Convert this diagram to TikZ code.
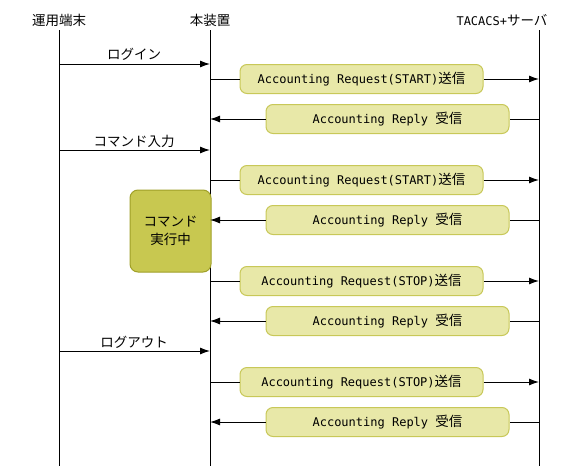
\documentclass[tikz,border=0pt]{standalone}
\usepackage{fontspec}
\usepackage{tikz}
\usetikzlibrary{arrows.meta,positioning,calc}
\newfontfamily\jpfont{Noto Sans CJK JP}
\newfontfamily\monofont{DejaVu Sans Mono}

\definecolor{boxfill}{HTML}{E8E8A8}
\definecolor{boxline}{HTML}{C8C858}
\definecolor{execfill}{HTML}{C8C850}
\definecolor{execline}{HTML}{A0A028}

\tikzset{
  txt/.style={font=\jpfont\fontsize{13.5}{16}\selectfont, inner sep=0pt},
  arr/.style={-{Latex[length=10pt,width=7pt]}},
  msgbox/.style={txt, draw=boxline, fill=boxfill, rounded corners=7pt,
    minimum width=243pt, minimum height=29pt},
  execbox/.style={txt, draw=execline, fill=execfill, rounded corners=8pt,
    minimum width=81pt, minimum height=82pt, align=center}
}
\newcommand{\lat}[1]{{\monofont\fontsize{12}{14}\selectfont #1}}

\begin{document}
\begin{tikzpicture}[x=1pt,y=-1pt,line width=1pt]
  \useasboundingbox (0,0) rectangle (562,466);

  % lifelines
  \node[txt] (term) at (59,20) {運用端末};
  \node[txt] (dev) at (210,20) {本装置};
  \node[txt] (srv) at (502,20) {\lat{TACACS+}サーバ};
  \coordinate (T) at (59,30);
  \coordinate (D) at (210,30);
  \coordinate (S) at (539,30);
  \draw (T) -- (59,466);
  \draw (D) -- (210,466);
  \draw (S) -- (539,466);

  % command in progress
  \node[execbox] (exec) at (170.5,231) {コマンド\\[2pt]実行中};

  % terminal -> device
  \node[txt] (login) at (134,54) {ログイン};
  \coordinate (m1) at (0,64);
  \draw[arr] (m1 -| T) -- (m1 -| D);
  \node[txt] (cmd) at (134,141) {コマンド入力};
  \coordinate (m2) at (0,150);
  \draw[arr] (m2 -| T) -- (m2 -| D);
  \node[txt] (logout) at (134,342) {ログアウト};
  \coordinate (m3) at (0,351);
  \draw[arr] (m3 -| T) -- (m3 -| D);

  % requests
  \node[msgbox] (rq1) at (361.5,79) {\lat{Accounting Request(START)}送信};
  \node[msgbox] (rq2) at (361.5,180) {\lat{Accounting Request(START)}送信};
  \node[msgbox] (rq3) at (361.5,281) {\lat{Accounting Request(STOP)}送信};
  \node[msgbox] (rq4) at (361.5,382) {\lat{Accounting Request(STOP)}送信};
  \foreach \n in {rq1,rq2,rq3,rq4}{
    \draw (\n.west -| D) -- (\n.west);
    \draw[arr] (\n.east) -- (\n.east -| S);
  }

  % replies
  \node[msgbox] (rp1) at (387.5,119) {\lat{Accounting Reply }受信};
  \node[msgbox] (rp2) at (387.5,220) {\lat{Accounting Reply }受信};
  \node[msgbox] (rp3) at (387.5,321) {\lat{Accounting Reply }受信};
  \node[msgbox] (rp4) at (387.5,422) {\lat{Accounting Reply }受信};
  \foreach \n in {rp1,rp2,rp3,rp4}{
    \draw (\n.east -| S) -- (\n.east);
    \draw[arr] (\n.west) -- (\n.west -| D);
  }
\end{tikzpicture}
\end{document}
